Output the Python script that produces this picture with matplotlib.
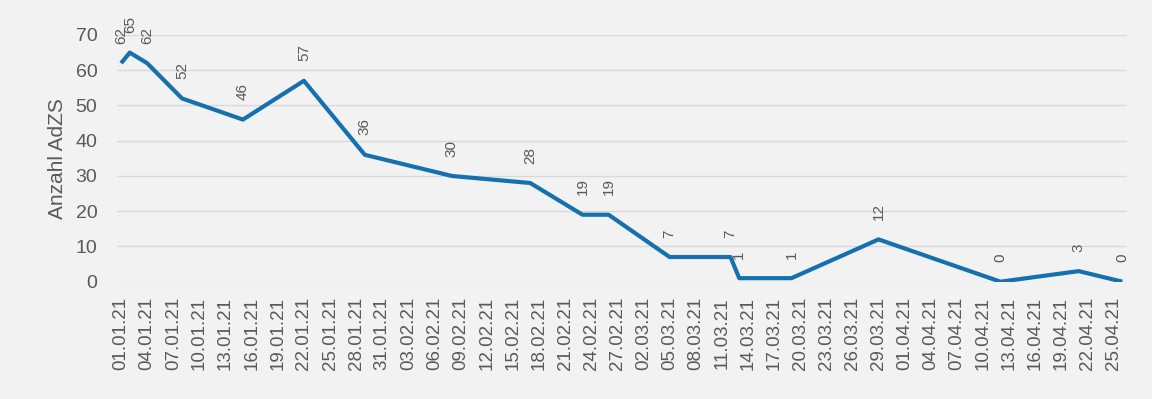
import matplotlib
matplotlib.use("Agg")
import matplotlib.pyplot as plt
import matplotlib.dates as mdates
import pandas as pd

# ---- data ----
dates = ["01.01.21", "02.01.21", "04.01.21", "08.01.21", "15.01.21", "22.01.21",
         "29.01.21", "08.02.21", "17.02.21", "23.02.21", "26.02.21", "05.03.21",
         "12.03.21", "13.03.21", "19.03.21", "29.03.21", "12.04.21", "21.04.21",
         "26.04.21"]
values = [62, 65, 62, 52, 46, 57, 36, 30, 28, 19, 19, 7, 7, 1, 1, 12, 0, 3, 0]

tick_labels = ["01.01.21", "04.01.21", "07.01.21", "10.01.21", "13.01.21", "16.01.21",
               "19.01.21", "22.01.21", "25.01.21", "28.01.21", "31.01.21", "03.02.21",
               "06.02.21", "09.02.21", "12.02.21", "15.02.21", "18.02.21", "21.02.21",
               "24.02.21", "27.02.21", "02.03.21", "05.03.21", "08.03.21", "11.03.21",
               "14.03.21", "17.03.21", "20.03.21", "23.03.21", "26.03.21", "29.03.21",
               "01.04.21", "04.04.21", "07.04.21", "10.04.21", "13.04.21", "16.04.21",
               "19.04.21", "22.04.21", "25.04.21"]
y_ticks = [0, 10, 20, 30, 40, 50, 60, 70]
y_label = "Anzahl AdZS"

# ---- style ----
BG = "#f2f2f2"
LINE = "#1570b0"
TXT = "#595959"
GRID = "#d9d9d9"

plt.rcParams["font.family"] = ["Liberation Sans", "DejaVu Sans"]

x = pd.to_datetime(dates, format="%d.%m.%y")
xt = pd.to_datetime(tick_labels, format="%d.%m.%y")

fig = plt.figure(figsize=(11.52, 3.99), dpi=100, facecolor=BG)
ax = fig.add_axes([0.1013, 0.294, 0.978 - 0.1013, 0.9123 - 0.294])
ax.set_facecolor(BG)

ax.plot(x, values, color=LINE, lw=3.0, solid_joinstyle="round",
        solid_capstyle="butt", zorder=3)

for xi, v in zip(x, values):
    ax.annotate(str(v), (xi, v), xytext=(0, 14), textcoords="offset points",
                rotation=90, ha="center", va="bottom", fontsize=11,
                color=TXT, annotation_clip=False, zorder=4)

half = pd.Timedelta(hours=12)
ax.set_xlim(x[0] - half, x[-1] + half)
ax.set_ylim(0, 70)
ax.set_yticks(y_ticks)
ax.set_xticks(xt)
ax.set_xticklabels(tick_labels, rotation=90)

ax.grid(axis="y", color=GRID, lw=1.0, zorder=1)
ax.grid(axis="x", visible=False)
for s in ax.spines.values():
    s.set_visible(False)
ax.tick_params(axis="both", length=0, colors=TXT)
ax.tick_params(axis="y", labelsize=14, pad=14)
ax.tick_params(axis="x", labelsize=13.5, pad=11)
ax.set_ylabel(y_label, fontsize=15, color=TXT, labelpad=6)

fig.savefig("out.png", dpi=100, facecolor=BG)
